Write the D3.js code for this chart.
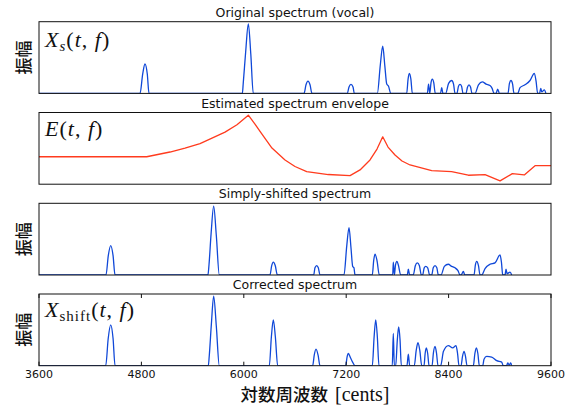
<html>
<head>
    <script src="https://d3js.org/d3.v7.min.js"></script>
    <style>
        body { margin: 0; background: white; }
        text { font-family: "DejaVu Sans"; }
    </style>
</head>
<body>
<svg id="chart" width="575" height="409"></svg>
<script>

// x axis (cents)
const centsDomain = [3600, 9600];
const tickCents = [3600, 4800, 6000, 7200, 8400, 9600];

const panelTitles = ["Original spectrum (vocal)", "Estimated spectrum envelope",
                     "Simply-shifted spectrum", "Corrected spectrum"];

// [cents, amplitude]
const originalSpectrum = [
    [3600,0],
    [4784,0],[4815,0.27],[4842,0.41],[4869,0.27],[4889,0],
    [5983,0],[5994,0.15],[6022,0.58],[6053,0.97],[6082,0.55],[6111,0],
    [6706,0],[6729,0.12],[6752,0.17],[6776,0.12],[6799,0],
    [7213,0],[7233,0.09],[7256,0.125],[7280,0.09],[7295,0],
    [7565,0],[7600,0.4],[7628,0.66],[7653,0.38],[7675,0.13],[7696,0.1],[7722,0],
    [7909,0],[7925,0.2],[7940,0.28],[7958,0.2],[7975,0],
    [8151,0],[8165,0.13],[8179,0],[8194,0.15],[8209,0.2],[8226,0.15],[8244,0],
    [8305,0],[8319,0.08],[8334,0],
    [8366,0],[8400,0.14],[8436,0.18],[8458,0.13],[8475,0],
    [8498,0],[8516,0.1],[8534,0.125],[8552,0.1],[8569,0],
    [8604,0],[8622,0.09],[8639,0.12],[8657,0.09],[8674,0],
    [8710,0],[8750,0.12],[8795,0.16],[8840,0.13],[8885,0.11],[8910,0.07],[8932,0],
    [8956,0],[8975,0.06],[8996,0],
    [9096,0],[9113,0.14],[9131,0.18],[9150,0.13],[9166,0],
    [9210,0],[9237,0.08],[9295,0.12],[9354,0.18],[9405,0.28],[9425,0.17],[9444,0],
    [9466,0],[9480,0.07],[9492,0.02],[9522,0.05],[9540,0]
];

const envelope = [
    [3600,0.383],[4862,0.383],[5135,0.449],[5311,0.504],[5487,0.567],[5780,0.726],
    [5920,0.83],[6053,0.963],
    [6131,0.838],[6213,0.699],[6330,0.504],[6483,0.338],[6600,0.247],[6737,0.175],
    [6990,0.135],[7245,0.119],
    [7362,0.199],[7479,0.338],[7561,0.49],[7628,0.661],[7690,0.518],[7772,0.407],
    [7854,0.324],[7948,0.268],[8202,0.189],[8436,0.175],[8631,0.125],[8827,0.133],
    [9003,0.046],[9147,0.147],[9287,0.129],[9413,0.258],[9600,0.258]
];

const shiftedSpectrum = [
    [3600,0],
    [4385,0],[4412,0.27],[4440,0.41],[4468,0.27],[4491,0],
    [5580,0],[5592,0.14],[5617,0.58],[5647,0.96],[5678,0.55],[5713,0],
    [6307,0],[6327,0.13],[6346,0.18],[6369,0.13],[6393,0],
    [6819,0],[6834,0.1],[6854,0.13],[6873,0.1],[6893,0],
    [7174,0],[7206,0.4],[7233,0.66],[7256,0.38],[7276,0.12],[7291,0.1],[7303,0],
    [7506,0],[7522,0.2],[7538,0.29],[7561,0.2],[7588,0],
    [7745,0],[7752,0.18],[7765,0],[7778,0.14],[7795,0.19],[7811,0.14],[7839,0],
    [7916,0],[7928,0.08],[7944,0],
    [7986,0],[8010,0.13],[8033,0.17],[8058,0.13],[8080,0],
    [8096,0],[8114,0.1],[8132,0.12],[8155,0.1],[8178,0],
    [8202,0],[8220,0.1],[8241,0.13],[8262,0.1],[8280,0],
    [8311,0],[8350,0.12],[8397,0.15],[8436,0.12],[8475,0.1],[8510,0.06],[8534,0],
    [8546,0],[8573,0.05],[8590,0],
    [8698,0],[8714,0.14],[8730,0.19],[8750,0.13],[8768,0],
    [8788,0],[8827,0.09],[8885,0.15],[8944,0.17],[9003,0.28],[9020,0.17],[9034,0],
    [9061,0],[9073,0.08],[9085,0.02],[9120,0.04],[9139,0]
];

const correctedSpectrum = [
    [3600,0],
    [4382,0],[4411,0.38],[4440,0.57],[4468,0.38],[4491,0],
    [5584,0],[5596,0.15],[5620,0.58],[5647,0.97],[5678,0.55],[5713,0],
    [6299,0],[6323,0.4],[6346,0.64],[6370,0.4],[6397,0],
    [6807,0],[6826,0.15],[6846,0.23],[6870,0.15],[6893,0],
    [7194,0],[7210,0.12],[7225,0.17],[7250,0.11],[7275,0.05],[7303,0],
    [7506,0],[7527,0.4],[7546,0.64],[7565,0.4],[7584,0],
    [7740,0],[7752,0.45],[7764,0],[7780,0],[7799,0.36],[7815,0.54],[7831,0.36],[7846,0],
    [7912,0],[7928,0.16],[7944,0],
    [7998,0],[8020,0.21],[8041,0.32],[8063,0.21],[8085,0],
    [8112,0],[8125,0.17],[8139,0.25],[8155,0.17],[8171,0],
    [8206,0],[8222,0.18],[8241,0.27],[8258,0.18],[8276,0],
    [8307,0],[8340,0.2],[8397,0.28],[8448,0.25],[8487,0.28],[8505,0.17],[8522,0],
    [8546,0],[8563,0.13],[8581,0.2],[8598,0.13],[8616,0],
    [8690,0],[8708,0.17],[8725,0.25],[8743,0.17],[8760,0],
    [8800,0],[8815,0.09],[8846,0.13],[8905,0.12],[8964,0.07],[9022,0.05],[9041,0],
    [9080,0],[9093,0.04],[9110,0.01],[9128,0.04],[9139,0]
];

const svg = d3.select("#chart");
const x = d3.scaleLinear().domain(centsDomain).range([39, 551]);
const panelTop = [21.7, 112.5, 203.3, 294];
const panelH = 71.7;
const blue = "#1048d8";
const red = "#ff3b1e";

const panels = [
    {data: originalSpectrum, color: blue, ylabel: true, curve: d3.curveMonotoneX},
    {data: envelope, color: red, ylabel: false, curve: d3.curveLinear},
    {data: shiftedSpectrum, color: blue, ylabel: true, curve: d3.curveMonotoneX},
    {data: correctedSpectrum, color: blue, ylabel: true, curve: d3.curveMonotoneX}
];

panels.forEach(function(p, i) {
    const top = panelTop[i];
    const y = d3.scaleLinear().domain([0, 1]).range([top + panelH, top]);
    const g = svg.append("g");

    g.append("clipPath").attr("id", "clip" + i)
        .append("rect").attr("x", x(3600)).attr("y", top)
        .attr("width", x(9600) - x(3600)).attr("height", panelH);

    const line = d3.line().x(d => x(d[0])).y(d => y(d[1])).curve(p.curve);
    g.append("path").datum(p.data)
        .attr("d", line)
        .attr("fill", "none")
        .attr("stroke", p.color)
        .attr("stroke-width", 1.3)
        .attr("stroke-linejoin", "round")
        .attr("clip-path", "url(#clip" + i + ")");

    g.append("rect").attr("x", x(3600)).attr("y", top)
        .attr("width", x(9600) - x(3600)).attr("height", panelH)
        .attr("fill", "none").attr("stroke", "#111").attr("stroke-width", 1);

    g.append("text").attr("x", (x(3600) + x(9600)) / 2).attr("y", top - 5)
        .attr("text-anchor", "middle").attr("font-size", 12.5).attr("fill", "#111")
        .text(panelTitles[i]);

    if (p.ylabel) {
        g.append("text")
            .attr("transform", "translate(30," + (top + panelH / 2) + ") rotate(-90)")
            .attr("text-anchor", "middle")
            .style("font-family", "'Noto Sans CJK JP'")
            .attr("font-size", 17).attr("font-weight", 500).attr("fill", "#111")
            .text("振幅");
    }
});

// math labels inside panels
function mathLabel(top, sub) {
    const t = svg.append("text").attr("x", 45).attr("y", top + 23)
        .style("font-family", "'Liberation Serif'").attr("font-size", 22)
        .attr("letter-spacing", 1).attr("fill", "#111");
    t.append("tspan").attr("font-style", "italic").text(sub === null ? "E" : "X");
    if (sub === "s") {
        t.append("tspan").attr("font-style", "italic").attr("font-size", 15).attr("dy", 4).text("s");
        t.append("tspan").attr("dy", -4).text("(");
    } else if (sub === "shift") {
        t.append("tspan").attr("font-size", 15).attr("dy", 4).text("shift");
        t.append("tspan").attr("dy", -4).text("(");
    } else {
        t.append("tspan").text("(");
    }
    t.append("tspan").attr("font-style", "italic").text("t");
    t.append("tspan").text(", ");
    t.append("tspan").attr("font-style", "italic").text("f");
    t.append("tspan").text(")");
}
mathLabel(panelTop[0] + 2, "s");
mathLabel(panelTop[1], null);
mathLabel(panelTop[3], "shift");

// x axis on the bottom panel, inward ticks top and bottom
const bottom = panelTop[3] + panelH;
const axisG = svg.append("g");
tickCents.forEach(function(c) {
    axisG.append("line").attr("x1", x(c)).attr("x2", x(c))
        .attr("y1", bottom).attr("y2", bottom - 4).attr("stroke", "#111");
    axisG.append("line").attr("x1", x(c)).attr("x2", x(c))
        .attr("y1", panelTop[3]).attr("y2", panelTop[3] + 4).attr("stroke", "#111");
    axisG.append("text").attr("x", x(c)).attr("y", bottom + 12)
        .attr("text-anchor", "middle").attr("font-size", 11).attr("fill", "#111")
        .text(c);
});

const xl = svg.append("text").attr("x", 315).attr("y", 401)
    .attr("text-anchor", "middle").attr("fill", "#111");
xl.append("tspan").style("font-family", "'Noto Sans CJK JP'").attr("font-size", 17.5)
    .attr("font-weight", 500).text("対数周波数");
xl.append("tspan").style("font-family", "'Liberation Serif'").attr("font-size", 20)
    .attr("dx", 7).text("[cents]");

</script>
</body>
</html>
